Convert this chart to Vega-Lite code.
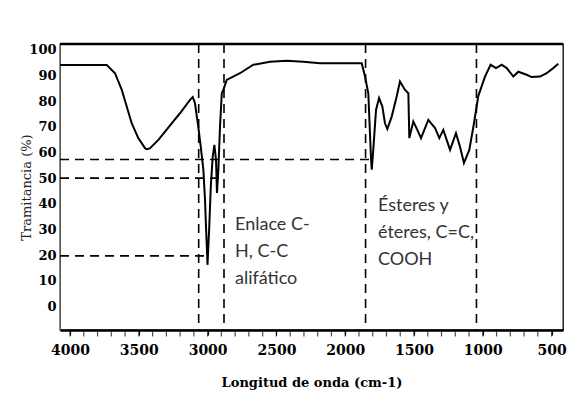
{
  "$schema": "https://vega.github.io/schema/vega-lite/v6.json",
  "autosize": "none",
  "width": 503,
  "height": 286,
  "padding": {"left": 60, "top": 44, "right": 16, "bottom": 80},
  "background": "white",
  "config": {
    "view": {"stroke": "#000", "strokeWidth": 1.3},
    "axis": {"grid": false, "labelOverlap": false, "labelFlush": false},
    "axisY": {"labelOverlap": false, "tickCount": 11},
    "axisX": {"labelOverlap": false}
  },
  "datasets": {
    "spectrum": [
      {"wn": 4073, "t": 94.1}, {"wn": 3733, "t": 94.1}, {"wn": 3673, "t": 90.9}, {"wn": 3624, "t": 84.4},
      {"wn": 3588, "t": 77.9}, {"wn": 3552, "t": 71.4}, {"wn": 3504, "t": 65.6}, {"wn": 3455, "t": 61.7},
      {"wn": 3443, "t": 61.3}, {"wn": 3420, "t": 61.6}, {"wn": 3358, "t": 64.9}, {"wn": 3261, "t": 71.4},
      {"wn": 3201, "t": 75.3}, {"wn": 3128, "t": 80.5}, {"wn": 3108, "t": 81.6}, {"wn": 3092, "t": 79.2},
      {"wn": 3068, "t": 70.1}, {"wn": 3050, "t": 62.3}, {"wn": 3031, "t": 53.3}, {"wn": 3019, "t": 41.6},
      {"wn": 3012, "t": 31.2}, {"wn": 3002, "t": 18.2}, {"wn": 3001, "t": 16.2}, {"wn": 2988, "t": 31.2},
      {"wn": 2977, "t": 46.7}, {"wn": 2963, "t": 58.4}, {"wn": 2951, "t": 63}, {"wn": 2939, "t": 57.1},
      {"wn": 2932, "t": 44.2}, {"wn": 2922, "t": 53.3}, {"wn": 2910, "t": 70.1}, {"wn": 2897, "t": 83.1},
      {"wn": 2886, "t": 84.4}, {"wn": 2861, "t": 88.3}, {"wn": 2765, "t": 90.9}, {"wn": 2668, "t": 94.2},
      {"wn": 2547, "t": 95.4}, {"wn": 2425, "t": 95.8}, {"wn": 2305, "t": 95.4}, {"wn": 2183, "t": 94.8},
      {"wn": 2062, "t": 94.8}, {"wn": 1880, "t": 94.8}, {"wn": 1856, "t": 89.6}, {"wn": 1832, "t": 83.1},
      {"wn": 1820, "t": 67.5}, {"wn": 1812, "t": 57.1}, {"wn": 1807, "t": 53.3}, {"wn": 1796, "t": 61},
      {"wn": 1776, "t": 76.6}, {"wn": 1754, "t": 81.2}, {"wn": 1730, "t": 77.9}, {"wn": 1711, "t": 71.4},
      {"wn": 1694, "t": 69.2}, {"wn": 1662, "t": 74}, {"wn": 1626, "t": 81.8}, {"wn": 1602, "t": 87.7},
      {"wn": 1565, "t": 84.4}, {"wn": 1541, "t": 83.1}, {"wn": 1534, "t": 65.6}, {"wn": 1505, "t": 72.1},
      {"wn": 1476, "t": 68.8}, {"wn": 1449, "t": 65.6}, {"wn": 1396, "t": 72.7}, {"wn": 1347, "t": 69.5},
      {"wn": 1316, "t": 65.6}, {"wn": 1287, "t": 68.8}, {"wn": 1238, "t": 61}, {"wn": 1195, "t": 67.5},
      {"wn": 1166, "t": 62.3}, {"wn": 1137, "t": 55.9}, {"wn": 1098, "t": 61}, {"wn": 1064, "t": 71.4},
      {"wn": 1033, "t": 82}, {"wn": 984, "t": 89.6}, {"wn": 943, "t": 94.2}, {"wn": 904, "t": 92.9},
      {"wn": 863, "t": 94.2}, {"wn": 826, "t": 92.9}, {"wn": 778, "t": 89.6}, {"wn": 742, "t": 91.5},
      {"wn": 681, "t": 90.3}, {"wn": 645, "t": 89.4}, {"wn": 584, "t": 89.6}, {"wn": 536, "t": 90.9},
      {"wn": 488, "t": 92.9}, {"wn": 451, "t": 94.6}
    ],
    "vlines": [{"wn": 3065}, {"wn": 2881}, {"wn": 1852}, {"wn": 1046}],
    "hlines": [
      {"wn": 4073, "wn2": 1790, "t": 57.3},
      {"wn": 4073, "wn2": 2910, "t": 50},
      {"wn": 4073, "wn2": 3010, "t": 19.7}
    ],
    "minor": [
      {"wn": 4000}, {"wn": 3900}, {"wn": 3800}, {"wn": 3700}, {"wn": 3600}, {"wn": 3500}, {"wn": 3400}, {"wn": 3300},
      {"wn": 3200}, {"wn": 3100}, {"wn": 3000}, {"wn": 2900}, {"wn": 2800}, {"wn": 2700}, {"wn": 2600}, {"wn": 2500},
      {"wn": 2400}, {"wn": 2300}, {"wn": 2200}, {"wn": 2100}, {"wn": 2000}, {"wn": 1900}, {"wn": 1800}, {"wn": 1700},
      {"wn": 1600}, {"wn": 1500}, {"wn": 1400}, {"wn": 1300}, {"wn": 1200}, {"wn": 1100}, {"wn": 1000}, {"wn": 900},
      {"wn": 800}, {"wn": 700}, {"wn": 600}, {"wn": 500}
    ],
    "top": [{"t": 102.3}],
    "notes": [
      {"wn": 2801, "t": 29.9, "label": "Enlace C-\nH, C-C\nalifático"},
      {"wn": 1762, "t": 37, "label": "Ésteres  y\néteres, C=C,\nCOOH"}
    ]
  },
  "layer": [
    {
      "data": {"name": "spectrum"},
      "mark": {"type": "line", "color": "#000", "strokeWidth": 2, "clip": true},
      "encoding": {
        "x": {
          "field": "wn", "type": "quantitative",
          "scale": {"domain": [417, 4073], "reverse": true, "nice": false, "zero": false},
          "axis": {
            "title": "Longitud de onda (cm-1)",
            "values": [4000, 3500, 3000, 2500, 2000, 1500, 1000, 500],
            "format": "d",
            "domainColor": "#000", "domainWidth": 2.5,
            "tickColor": "#000", "tickSize": 5, "tickWidth": 1.2,
            "labelFont": "DejaVu Serif", "labelFontWeight": "bold", "labelFontSize": 14,
            "labelColor": "#000", "labelPadding": 8,
            "titleFont": "DejaVu Serif", "titleFontWeight": "bold", "titleFontSize": 13,
            "titleColor": "#000", "titlePadding": 19
          }
        },
        "y": {
          "field": "t", "type": "quantitative",
          "scale": {"domain": [-9.2, 102.3], "nice": false, "zero": false},
          "axis": {
            "title": "Tramitancia (%)",
            "values": [0, 10, 20, 30, 40, 50, 60, 70, 80, 90, 100],
            "domainColor": "#555", "domainWidth": 1,
            "tickSize": 0, "labelPadding": 4,
            "labelFont": "DejaVu Serif", "labelFontWeight": "bold", "labelFontSize": 13,
            "labelColor": "#000",
            "titleFont": "DejaVu Serif", "titleFontWeight": "normal", "titleFontSize": 13,
            "titleColor": "#222", "titleX": -34, "titleY": 143, "titleAngle": -90,
            "titleBaseline": "middle", "titleAlign": "center"
          }
        }
      }
    },
    {
      "data": {"name": "minor"},
      "mark": {"type": "tick", "orient": "vertical", "color": "#000", "thickness": 1.2, "size": 5, "yOffset": 4, "clip": false},
      "encoding": {
        "x": {"field": "wn", "type": "quantitative",
              "scale": {"domain": [417, 4073], "reverse": true, "nice": false, "zero": false}},
        "y": {"datum": -9.2, "type": "quantitative",
              "scale": {"domain": [-9.2, 102.3], "nice": false, "zero": false}}
      }
    },
    {
      "data": {"name": "top"},
      "mark": {"type": "rule", "color": "#000", "strokeWidth": 2.5},
      "encoding": {
        "y": {"field": "t", "type": "quantitative",
              "scale": {"domain": [-9.2, 102.3], "nice": false, "zero": false}}
      }
    },
    {
      "data": {"name": "vlines"},
      "mark": {"type": "rule", "color": "#000", "strokeWidth": 1.6, "strokeDash": [9, 6]},
      "encoding": {
        "x": {"field": "wn", "type": "quantitative",
              "scale": {"domain": [417, 4073], "reverse": true, "nice": false, "zero": false}}
      }
    },
    {
      "data": {"name": "hlines"},
      "mark": {"type": "rule", "color": "#000", "strokeWidth": 1.6, "strokeDash": [9, 6]},
      "encoding": {
        "x": {"field": "wn", "type": "quantitative",
              "scale": {"domain": [417, 4073], "reverse": true, "nice": false, "zero": false}},
        "x2": {"field": "wn2"},
        "y": {"field": "t", "type": "quantitative",
              "scale": {"domain": [-9.2, 102.3], "nice": false, "zero": false}}
      }
    },
    {
      "data": {"name": "notes"},
      "mark": {"type": "text", "align": "left", "baseline": "alphabetic", "lineBreak": "\n",
               "lineHeight": 27, "font": "Lato", "fontSize": 18, "color": "#333"},
      "encoding": {
        "x": {"field": "wn", "type": "quantitative",
              "scale": {"domain": [417, 4073], "reverse": true, "nice": false, "zero": false}},
        "y": {"field": "t", "type": "quantitative",
              "scale": {"domain": [-9.2, 102.3], "nice": false, "zero": false}},
        "text": {"field": "label"}
      }
    }
  ]
}
